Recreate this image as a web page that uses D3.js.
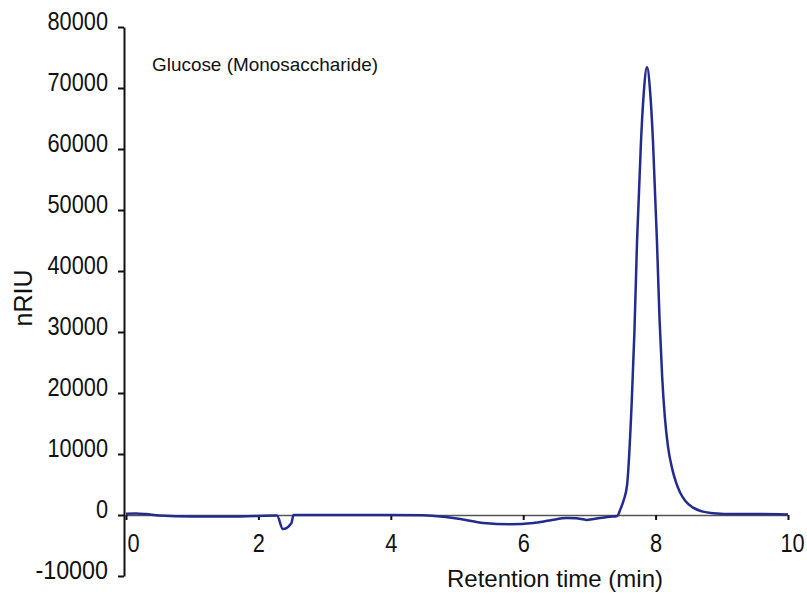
<!DOCTYPE html>
<html>
<head>
<meta charset="utf-8">
<script src="https://cdn.jsdelivr.net/npm/d3@7"></script>
<style>
  body { margin: 0; background: #fff; }
  text { font-family: "Liberation Sans", Arial, sans-serif; fill: #111; }
</style>
</head>
<body>
<script>
// retention time (min) and refractive index signal (nRIU)
var times = [0, 0.15, 0.3, 0.5, 1.0, 1.5, 2.0, 2.28, 2.37, 2.5, 2.53, 3.0, 4.0, 4.5,
  4.8, 5.05, 5.4, 5.8, 6.15, 6.4, 6.66, 6.8, 6.96, 7.16, 7.3, 7.42, 7.47, 7.52, 7.57,
  7.64, 7.68, 7.72, 7.78, 7.82, 7.87, 7.92, 7.96, 8.02, 8.06, 8.10, 8.14, 8.19, 8.25,
  8.31, 8.37, 8.45, 8.56, 8.7, 8.87, 9.2, 9.6, 10]
var signal = [200, 250, 150, -100, -250, -250, -150, -100, -2300, -1300, 0, 0, 0, -50,
  -300, -650, -1300, -1500, -1300, -900, -500, -550, -800, -500, -300, -150, 1000, 2500, 5000,
  18700, 30000, 45000, 61400, 69000, 73400, 69000, 61400, 45000, 32000, 22500, 16000, 11000, 7600,
  5300, 3700, 2300, 1250, 600, 300, 150, 150, 100]

var yTicks = [-10000, 0, 10000, 20000, 30000, 40000, 50000, 60000, 70000, 80000]
var xTicks = [0, 2, 4, 6, 8, 10]

var xLabel = "Retention time (min)"
var yLabel = "nRIU"
var note = "Glucose (Monosaccharide)"

var width = 807, height = 593

var svg = d3.select("body").append("svg")
  .attr("width", width)
  .attr("height", height)

var x = d3.scaleLinear().domain([0, 10]).range([126, 788])
var y = d3.scaleLinear().domain([-10000, 80000]).range([576, 27])

// condensed look: squeeze glyphs to the width the reference shows
function squeeze(sel, perChar) {
  sel.attr("textLength", function() { return this.textContent.length * perChar })
    .attr("lengthAdjust", "spacingAndGlyphs")
}

// y axis
var yAxis = svg.append("g")
  .attr("transform", "translate(124,0)")
  .call(d3.axisLeft(y).tickValues(yTicks).tickSize(6).tickSizeOuter(0)
    .tickFormat(function(d) { return String(d) }))
yAxis.select(".domain").attr("stroke", "#111").attr("stroke-width", 2)
yAxis.selectAll(".tick line").attr("stroke", "#111").attr("stroke-width", 2)
yAxis.selectAll(".tick text")
  .attr("x", -16)
  .attr("dy", "0.1em")
  .style("font-size", "25px")
  .call(squeeze, 12.1)

// x axis sits on the zero line
var xAxis = svg.append("g")
  .attr("transform", "translate(0," + y(0) + ")")
  .call(d3.axisBottom(x).tickValues(xTicks).tickSize(5).tickSizeOuter(0))
xAxis.select(".domain").attr("stroke", "#555").attr("stroke-width", 1.5)
xAxis.selectAll(".tick text")
  .attr("y", 19)
  .attr("dx", function(d) { return d == 0 ? 7 : (d == 10 ? 4 : 0) })
  .style("font-size", "25px")
  .call(squeeze, 12.1)
xAxis.selectAll(".tick line").attr("stroke", "#111").attr("stroke-width", 2)

// the trace
var line = d3.line()
  .x(function(d, i) { return x(times[i]) })
  .y(function(d) { return y(d) })
  .curve(d3.curveMonotoneX)

svg.append("path")
  .datum(signal)
  .attr("d", line)
  .attr("fill", "none")
  .attr("stroke", "#232b8c")
  .attr("stroke-width", 2.5)

// labels
svg.append("text")
  .attr("x", 447)
  .attr("y", 587)
  .attr("textLength", 216)
  .attr("lengthAdjust", "spacingAndGlyphs")
  .style("font-size", "24px")
  .text(xLabel)

svg.append("text")
  .attr("transform", "translate(32,298) rotate(-90)")
  .attr("text-anchor", "middle")
  .style("font-size", "25px")
  .call(squeeze, 14.5)
  .text(yLabel)

svg.append("text")
  .attr("x", 152)
  .attr("y", 71)
  .attr("textLength", 226)
  .attr("lengthAdjust", "spacingAndGlyphs")
  .style("font-size", "19px")
  .text(note)
</script>
</body>
</html>
